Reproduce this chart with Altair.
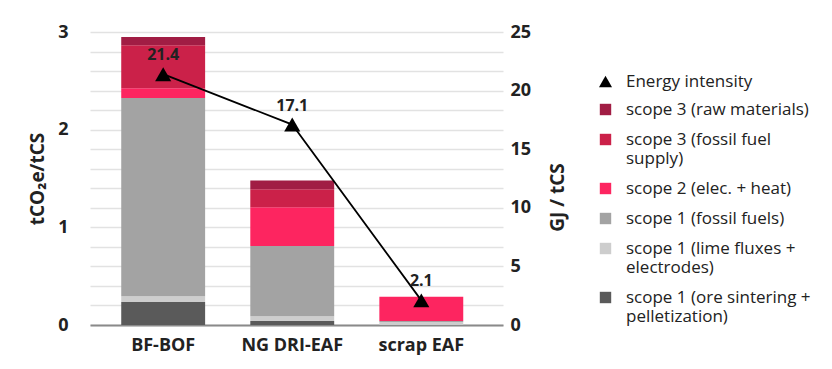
import altair as alt
import pandas as pd

routes = ["BF-BOF", "NG DRI-EAF", "scrap EAF"]
cat_labels = [
    "scope 1 (ore sintering +|pelletization)",
    "scope 1 (lime fluxes +|electrodes)",
    "scope 1 (fossil fuels)",
    "scope 2 (elec. + heat)",
    "scope 3 (fossil fuel|supply)",
    "scope 3 (raw materials)",
]
colors = ["#5a5a5a", "#cdcdcd", "#a3a3a3", "#fd2560", "#cb2149", "#a11d44"]
# emissions tCO2e/tCS, per route, per category (bottom to top)
bf_bof = [0.235, 0.06, 2.03, 0.10, 0.44, 0.085]
ng_dri = [0.04, 0.05, 0.72, 0.395, 0.185, 0.09]
scrap = [0.0, 0.03, 0.01, 0.25, 0.0, 0.0]
energy = [21.4, 17.1, 2.1]
energy_label = "Energy intensity"

rows = []
for r, vals in zip(routes, [bf_bof, ng_dri, scrap]):
    for i, (c, v) in enumerate(zip(cat_labels, vals)):
        rows.append({"route": r, "category": c, "value": v, "order": i})
df = pd.DataFrame(rows)
edf = pd.DataFrame({"route": routes, "energy": energy, "series": [energy_label] * 3})

grid_vals = [round(i * 0.2, 1) for i in range(16)]
font = "Open Sans"
txtc = "#222"

xscale = alt.Scale(paddingInner=0.35, paddingOuter=0.275, align=0.44)
x = alt.X("route:N", sort=routes, title=None, scale=xscale,
          axis=alt.Axis(labelAngle=0, labelFont=font, labelFontWeight="bold",
                        labelFontSize=18, labelColor=txtc, ticks=False,
                        domainColor="#8a8a8a", domainWidth=2, labelPadding=11))

yE = alt.Y("energy:Q", title="GJ / tCS",
           scale=alt.Scale(domain=[0, 25], nice=False),
           axis=alt.Axis(orient="right", values=[0, 5, 10, 15, 20, 25], grid=False,
                         ticks=False, domain=False, labelPadding=7,
                         labelFont=font, labelFontWeight="bold", labelFontSize=18,
                         labelColor=txtc, titleFont=font, titleFontSize=19,
                         titleAngle=270, titleFontWeight="bold", titleColor=txtc,
                         titlePadding=37, titleY=165))

# invisible layer only to produce the triangle legend entry first
legend_pts = alt.Chart(edf).mark_point(filled=True, opacity=0, color="black").encode(
    x=alt.X("route:N", sort=routes),
    y=yE,
    shape=alt.Shape("series:N", scale=alt.Scale(domain=[energy_label], range=["triangle-up"]),
                    legend=alt.Legend(title=None, orient="none", legendX=507, legendY=41,
                                      labelFont=font, labelFontSize=17, labelColor=txtc,
                                      symbolSize=170, symbolFillColor="black",
                                      symbolStrokeColor="black", symbolOpacity=1,
                                      symbolStrokeWidth=0, labelOffset=12, labelLimit=300)),
)

bars = alt.Chart(df).mark_bar().encode(
    x=x,
    y=alt.Y("value:Q", stack="zero", title="tCO₂e/tCS",
            scale=alt.Scale(domain=[0, 3], nice=False),
            axis=alt.Axis(values=grid_vals, format=".0f",
                          labelExpr="datum.value == round(datum.value) ? datum.label : ''",
                          grid=True, gridColor="#e2e2e2", gridWidth=1.5,
                          ticks=False, domain=False, labelPadding=22,
                          labelFont=font, labelFontWeight="bold", labelFontSize=18,
                          labelColor=txtc, titleFont=font, titleFontSize=19,
                          titleFontWeight="bold", titleColor=txtc, titlePadding=10)),
    color=alt.Color("category:N",
                    scale=alt.Scale(domain=cat_labels[::-1], range=colors[::-1]),
                    legend=alt.Legend(title=None, orient="none", legendX=507, legendY=69,
                                      labelFont=font, labelFontSize=17,
                                      labelColor=txtc, labelLimit=300,
                                      labelExpr="split(datum.label, '|')",
                                      symbolType="square",
                                      symbolSize=130, symbolStrokeWidth=0,
                                      rowPadding=12, labelOffset=12)),
    order=alt.Order("order:Q", sort="ascending"),
)

base = alt.Chart(edf).encode(x=alt.X("route:N", sort=routes), y=yE)
line = base.mark_line(color="black", strokeWidth=1.8)
pts = base.mark_point(shape="triangle-up", filled=True, color="black", size=260, opacity=1)
txt = base.mark_text(dy=-19, font=font, fontWeight="bold", fontSize=16, color=txtc).encode(
    text=alt.Text("energy:Q", format=".1f"))

energy_layer = alt.layer(legend_pts, line, pts, txt)

chart = alt.layer(bars, energy_layer).resolve_scale(y="independent").properties(
    width=413, height=293, padding={"left": 20, "top": 15, "right": 5, "bottom": 5}
).configure_view(stroke=None)

chart.save("out.html", embed_options={"renderer": "svg", "actions": False})
